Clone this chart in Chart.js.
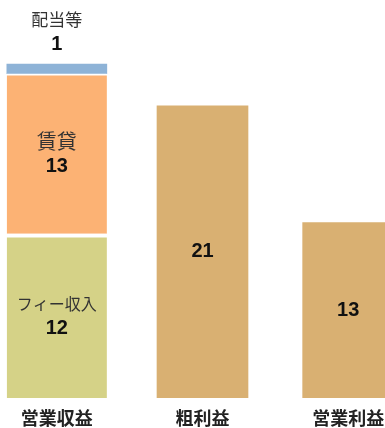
<!DOCTYPE html>
<html>
<head>
<meta charset="utf-8">
<script src="https://cdn.jsdelivr.net/npm/chart.js@4.4.1/dist/chart.umd.min.js"></script>
<style>
  html, body { margin: 0; padding: 0; background: #fff; }
  #wrap { position: relative; width: 385px; height: 428px; overflow: hidden; }
  #chart { position: absolute; left: -16px; top: 0; }
</style>
</head>
<body>
<div id="wrap"><canvas id="chart" width="437" height="428"></canvas></div>
<script>
// カテゴリ
const categories = ['営業収益', '粗利益', '営業利益'];

// 棒の高さ
const feeValues = [11.8, null, null];
const rentValues = [11.5, null, null];
const dividendValues = [0.7, null, null];
const profitValues = [null, 21, 12.6];

// 表示ラベル
const feeLabel = ['フィー収入', '12'];
const rentLabel = ['賃貸', '13'];
const dividendLabel = ['配当等', '1'];
const profitLabels = [null, '21', '13'];

const NUM_FONT = 'bold 20px "Liberation Sans", Arial, sans-serif';
const JP_FONT = '"Noto Sans CJK JP", sans-serif';

// 棒の中（上）にラベルを描く
const labelPlugin = {
    id: 'segLabels',
    afterDatasetsDraw(chart) {
        const ctx = chart.ctx;
        ctx.save();
        ctx.textAlign = 'center';
        ctx.textBaseline = 'middle';

        function inside(dsIndex, name, nameSize, num) {
            const el = chart.getDatasetMeta(dsIndex).data[0];
            const cy = (el.y + el.base) / 2;
            ctx.fillStyle = '#333';
            ctx.font = nameSize + 'px ' + JP_FONT;
            ctx.fillText(name, el.x, cy - 12);
            ctx.fillStyle = '#111';
            ctx.font = NUM_FONT;
            ctx.fillText(num, el.x, cy + 13);
        }

        inside(0, feeLabel[0], 16, feeLabel[1]);
        inside(1, rentLabel[0], 20, rentLabel[1]);

        // 配当等は棒の上
        const d = chart.getDatasetMeta(2).data[0];
        ctx.fillStyle = '#333';
        ctx.font = '17px ' + JP_FONT;
        ctx.fillText(dividendLabel[0], d.x, d.y - 44);
        ctx.fillStyle = '#111';
        ctx.font = NUM_FONT;
        ctx.fillText(dividendLabel[1], d.x, d.y - 20);

        const pm = chart.getDatasetMeta(3);
        pm.data.forEach((el, i) => {
            if (!profitLabels[i]) return;
            ctx.fillStyle = '#111';
            ctx.font = NUM_FONT;
            ctx.fillText(profitLabels[i], el.x, (el.y + el.base) / 2);
        });
        ctx.restore();
    }
};

new Chart(document.getElementById('chart'), {
    type: 'bar',
    data: {
        labels: categories,
        datasets: [{
            label: 'フィー収入',
            data: feeValues,
            backgroundColor: '#D5D287',
            borderColor: '#fff',
            borderWidth: { top: 4 },
            borderSkipped: false,
            barThickness: 100
        }, {
            label: '賃貸',
            data: rentValues,
            backgroundColor: '#FCB274',
            borderColor: '#fff',
            borderWidth: { top: 2 },
            borderSkipped: false,
            barThickness: 100
        }, {
            label: '配当等',
            data: dividendValues,
            backgroundColor: '#8EB3D7',
            borderWidth: 0,
            barThickness: 100
        }, {
            label: '利益',
            data: profitValues,
            backgroundColor: '#D9B072',
            borderWidth: 0,
            barThickness: 91
        }]
    },
    options: {
        responsive: false,
        devicePixelRatio: 1,
        animation: false,
        layout: { padding: 0 },
        scales: {
            x: {
                stacked: true,
                grid: { display: false, drawTicks: false },
                border: { display: false },
                ticks: {
                    color: '#222',
                    padding: 9,
                    font: { family: JP_FONT, size: 18, weight: 'bold' }
                },
                afterFit(scale) { scale.height = 30; }
            },
            y: {
                stacked: true,
                display: false,
                min: 0,
                max: 28.6
            }
        },
        plugins: {
            legend: { display: false },
            tooltip: { enabled: false }
        }
    },
    plugins: [labelPlugin]
});
</script>
</body>
</html>
